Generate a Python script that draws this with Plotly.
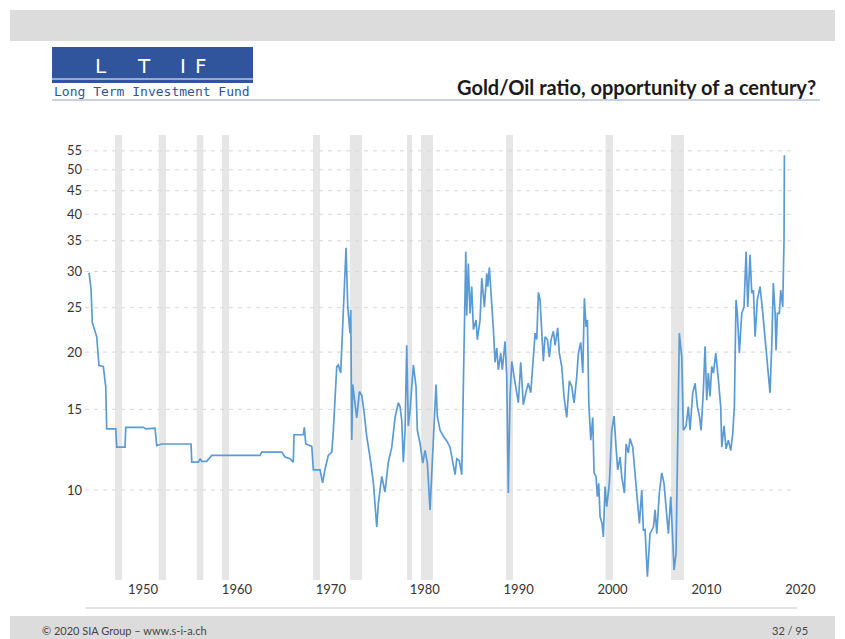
import plotly.graph_objects as go

# ---------------- data ----------------
years = [1944.25, 1944.46, 1944.6, 1945.07, 1945.31, 1945.77, 1946.03, 1946.13, 1947.09, 1947.2,
         1948.08, 1948.16, 1950.03, 1950.29, 1951.28, 1951.46, 1951.99, 1955.11, 1955.19, 1955.89,
         1956.07, 1956.25, 1956.78, 1957.32, 1962.46, 1962.64, 1964.77, 1965.12, 1965.65, 1966.0,
         1966.08, 1967.07, 1967.18, 1967.33, 1967.97, 1968.14, 1968.85, 1969.12, 1969.38, 1969.73,
         1970.1, 1970.27, 1970.63, 1970.8, 1971.05, 1971.27, 1971.62, 1971.8, 1972.04, 1972.12,
         1972.23, 1972.33, 1972.58, 1972.76, 1973.04, 1973.29, 1973.54, 1973.82, 1974.17, 1974.53,
         1974.89, 1975.06, 1975.42, 1975.77, 1976.12, 1976.49, 1976.84, 1977.19, 1977.37, 1977.55,
         1977.72, 1977.9, 1978.08, 1978.25, 1978.43, 1978.62, 1978.79, 1979.07, 1979.21, 1979.5,
         1979.79, 1980.03, 1980.28, 1980.56, 1980.85, 1981.2, 1981.34, 1981.63, 1981.98, 1982.34,
         1982.69, 1982.98, 1983.23, 1983.41, 1983.68, 1983.94, 1984.11, 1984.37, 1984.47, 1984.64,
         1984.82, 1985.0, 1985.18, 1985.46, 1985.6, 1985.89, 1986.07, 1986.35, 1986.6, 1986.71,
         1986.88, 1987.14, 1987.31, 1987.49, 1987.67, 1987.84, 1988.09, 1988.26, 1988.55, 1988.73,
         1988.9, 1989.08, 1989.27, 1989.51, 1989.72, 1989.97, 1990.22, 1990.5, 1990.79, 1991.03,
         1991.29, 1991.57, 1991.75, 1991.93, 1992.1, 1992.28, 1992.46, 1992.63, 1992.81, 1993.06,
         1993.27, 1993.45, 1993.7, 1993.88, 1994.16, 1994.33, 1994.59, 1994.83, 1995.12, 1995.4,
         1995.66, 1995.9, 1996.19, 1996.36, 1996.61, 1996.83, 1997.0, 1997.18, 1997.32, 1997.47,
         1997.68, 1997.89, 1998.03, 1998.24, 1998.38, 1998.53, 1998.67, 1998.88, 1999.02, 1999.2,
         1999.38, 1999.66, 1999.91, 2000.16, 2000.37, 2000.55, 2000.8, 2000.98, 2001.26, 2001.44,
         2001.68, 2001.86, 2002.15, 2002.4, 2002.64, 2002.86, 2003.11, 2003.28, 2003.46, 2003.71,
         2003.99, 2004.35, 2004.53, 2004.71, 2004.98, 2005.24, 2005.48, 2005.7, 2005.94, 2006.2,
         2006.41, 2006.55, 2006.76, 2006.9, 2007.11, 2007.37, 2007.54, 2007.83, 2008.07, 2008.25,
         2008.54, 2008.79, 2009.03, 2009.25, 2009.43, 2009.67, 2009.85, 2010.03, 2010.2, 2010.38,
         2010.56, 2010.74, 2010.99, 2011.27, 2011.52, 2011.63, 2011.87, 2012.09, 2012.33, 2012.59,
         2012.8, 2012.97, 2013.15, 2013.29, 2013.5, 2013.76, 2014.0, 2014.22, 2014.4, 2014.64,
         2014.82, 2015.0, 2015.18, 2015.42, 2015.71, 2016.0, 2016.24, 2016.49, 2016.77, 2016.95,
         2017.12, 2017.31, 2017.41, 2017.55, 2017.76, 2017.91, 2018.12, 2018.26, 2018.3]

ratio = [29.8, 27.5, 23.2, 21.6, 18.7, 18.6, 16.8, 13.6, 13.6, 12.4,
         12.4, 13.7, 13.7, 13.6, 13.65, 12.5, 12.6, 12.6, 11.5, 11.5,
         11.7, 11.55, 11.55, 11.9, 11.9, 12.1, 12.1, 11.8, 11.7, 11.5,
         13.2, 13.2, 13.7, 12.6, 12.45, 11.06, 11.06, 10.36, 11.1, 11.9,
         12.1, 13.5, 18.6, 18.75, 18.0, 22.4, 33.8, 25.1, 22.0, 24.7,
         12.85, 17.0, 15.5, 14.36, 16.4, 16.1, 14.8, 13.1, 11.8, 10.36,
         8.3, 9.35, 10.7, 9.9, 11.5, 12.4, 14.4, 15.5, 15.2, 14.2,
         11.5, 13.4, 20.7, 13.8, 14.9, 17.1, 18.75, 16.8, 13.5, 12.65,
         11.45, 12.2, 11.45, 9.05, 12.2, 17.0, 14.5, 13.5, 13.1, 12.8,
         12.4, 11.6, 10.8, 11.7, 11.6, 10.8, 16.0, 33.1, 24.0, 31.2,
         24.3, 27.8, 22.4, 23.5, 21.3, 23.5, 29.0, 25.1, 29.7, 27.8,
         30.6, 25.6, 22.4, 19.0, 20.4, 18.3, 19.9, 18.3, 21.1, 17.7,
         9.85, 16.0, 19.1, 17.7, 16.5, 15.5, 19.0, 15.35, 16.4, 17.1,
         16.3, 19.5, 22.0, 21.3, 27.0, 26.0, 21.6, 19.1, 21.6, 21.3,
         19.5, 21.3, 22.2, 20.7, 22.6, 19.9, 18.6, 16.0, 14.4, 17.3,
         16.8, 15.5, 17.7, 19.9, 21.0, 18.0, 26.2, 22.7, 23.5, 15.5,
         12.85, 14.4, 10.9, 10.7, 9.67, 10.34, 8.75, 8.45, 7.9, 10.17,
         9.2, 10.34, 13.5, 14.5, 12.4, 11.06, 11.8, 10.7, 9.85, 12.6,
         12.05, 12.95, 12.4, 10.7, 9.35, 8.45, 10.0, 8.18, 8.2, 6.47,
         8.03, 8.3, 9.05, 8.03, 9.85, 10.9, 10.34, 9.2, 8.03, 9.67,
         7.77, 6.69, 7.27, 12.85, 22.0, 19.5, 13.5, 13.8, 15.2, 13.5,
         16.3, 17.1, 15.2, 14.5, 13.5, 16.5, 20.6, 15.7, 18.0, 16.0,
         18.6, 18.0, 19.9, 17.4, 15.2, 12.4, 13.8, 12.3, 12.85, 12.2,
         13.3, 15.2, 26.0, 24.3, 19.9, 24.3, 25.1, 33.1, 25.1, 32.6,
         26.9, 27.3, 21.6, 26.0, 27.8, 24.3, 21.6, 19.2, 16.3, 20.6,
         28.3, 24.3, 20.2, 24.3, 24.3, 27.3, 25.1, 35.2, 53.8]

# shaded (recession) periods, start / end
band_start = [1947.02, 1951.67, 1955.72, 1958.41, 1968.10, 1972.04, 1978.11, 1979.60, 1988.66, 1999.25, 2006.23]
band_end = [1947.76, 1952.45, 1956.42, 1959.16, 1968.85, 1973.32, 1978.65, 1980.88, 1989.40, 2000.05, 2007.61]

x_ticks = [1950, 1960, 1970, 1980, 1990, 2000, 2010, 2020]
x_tick_labels = [str(v) for v in x_ticks]
y_ticks = [10, 15, 20, 25, 30, 35, 40, 45, 50, 55]
y_tick_labels = [str(v) for v in y_ticks]

title_text = "Gold/Oil ratio, opportunity of a century?"
logo_letters = ["L", "T", "I", "F"]
logo_sub = "Long Term Investment Fund"
footer_left = "© 2020 SIA Group – www.s-i-a.ch"
footer_right = "32 / 95"

# ---------------- layout geometry ----------------
W, H = 845, 639
ML, MR, MT, MB = 85, 39, 135, 59
PW, PH = W - ML - MR, H - MT - MB
X_RANGE = [1943.82, 2020.6]
GRID_END = 2019.3
Y_RANGE = [0.8035, 1.775]


def px(xp):
    return (xp - ML) / PW


def py(yp):
    return (H - MB - yp) / PH


FONT = "Lato, 'Open Sans', sans-serif"

fig = go.Figure()
fig.add_trace(go.Scatter(x=years, y=ratio, mode="lines",
                         line=dict(color="#5b9bd5", width=1.7),
                         hoverinfo="x+y", showlegend=False))

shapes = []
for a, b in zip(band_start, band_end):
    shapes.append(dict(type="rect", xref="x", yref="paper", x0=a, x1=b, y0=0, y1=1,
                       fillcolor="#e6e6e6", line=dict(width=0), layer="below"))
for v in y_ticks:
    shapes.append(dict(type="line", xref="x", yref="y", x0=X_RANGE[0], x1=GRID_END, y0=v, y1=v,
                       line=dict(color="#d6d6d6", width=1, dash="4px,5px"), layer="below"))

# page decoration
shapes += [
    dict(type="rect", xref="paper", yref="paper", x0=px(10), x1=px(835), y0=py(41), y1=py(10),
         fillcolor="#dcdcdc", line=dict(width=0), layer="below"),
    dict(type="rect", xref="paper", yref="paper", x0=px(10), x1=px(835), y0=py(639), y1=py(616),
         fillcolor="#dcdcdc", line=dict(width=0), layer="below"),
    dict(type="rect", xref="paper", yref="paper", x0=px(52), x1=px(253), y0=py(83), y1=py(47),
         fillcolor="#30559c", line=dict(width=0), layer="below"),
    dict(type="line", xref="paper", yref="paper", x0=px(52), x1=px(253), y0=py(79), y1=py(79),
         line=dict(color="white", width=1.2)),
    dict(type="line", xref="paper", yref="paper", x0=px(52), x1=px(820), y0=py(100), y1=py(100),
         line=dict(color="#8fa3bf", width=1)),
    dict(type="line", xref="paper", yref="paper", x0=px(85), x1=px(797), y0=py(608), y1=py(608),
         line=dict(color="#e3e3e3", width=2)),
]

annotations = []
for letter, xp in zip(logo_letters, [101, 144, 183, 201]):
    annotations.append(dict(text=letter, xref="paper", yref="paper", x=px(xp), y=py(80),
                            xanchor="center", yanchor="bottom", showarrow=False,
                            font=dict(family="'DejaVu Sans', sans-serif", size=20, color="white")))
annotations += [
    dict(text=logo_sub, xref="paper", yref="paper", x=px(152), y=py(91), xanchor="center",
         yanchor="middle", showarrow=False,
         font=dict(family="'DejaVu Sans Mono', monospace", size=13, color="#30559c")),
    dict(text="<b>" + title_text + "</b>", xref="paper", yref="paper", x=px(818), y=py(87),
         xanchor="right", yanchor="middle", showarrow=False,
         font=dict(family=FONT, size=20, color="#1a1a1a")),
    dict(text=footer_left, xref="paper", yref="paper", x=px(40), y=py(630), xanchor="left",
         yanchor="middle", showarrow=False, font=dict(family=FONT, size=11, color="#444")),
    dict(text=footer_right, xref="paper", yref="paper", x=px(810), y=py(630), xanchor="right",
         yanchor="middle", showarrow=False, font=dict(family=FONT, size=11, color="#444")),
]

fig.update_layout(
    width=W, height=H,
    margin=dict(l=ML, r=MR, t=MT, b=MB),
    paper_bgcolor="white", plot_bgcolor="rgba(0,0,0,0)",
    shapes=shapes, annotations=annotations,
    xaxis=dict(range=X_RANGE, tickvals=x_ticks, ticktext=x_tick_labels, showgrid=False,
               zeroline=False, showline=False, ticks="",
               tickfont=dict(family=FONT, size=13, color="#333")),
    yaxis=dict(type="log", range=Y_RANGE, tickvals=y_ticks, ticktext=y_tick_labels,
               showgrid=False, zeroline=False, showline=False, ticks="",
               ticklabelstandoff=2,
               tickfont=dict(family=FONT, size=13, color="#333")),
)

fig.write_html("out.html")
